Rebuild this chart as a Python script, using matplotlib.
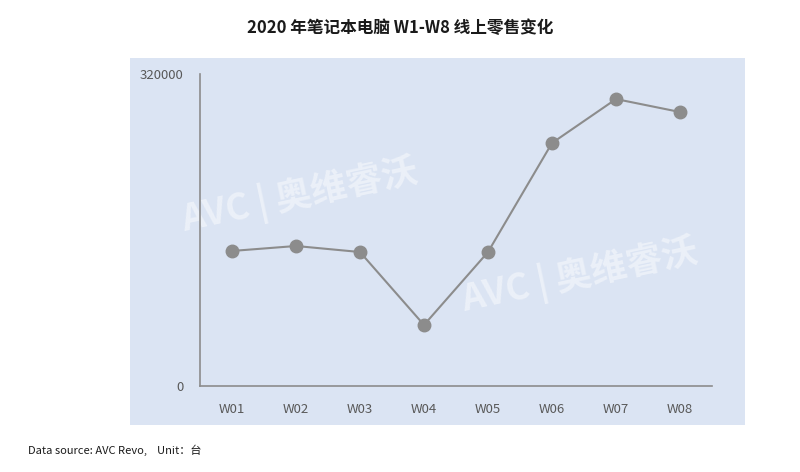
import matplotlib
matplotlib.use("Agg")
import matplotlib.pyplot as plt
from matplotlib.patches import Rectangle

plt.rcParams['font.family'] = ['Noto Sans CJK SC', 'DejaVu Sans']

weeks = ["W01", "W02", "W03", "W04", "W05", "W06", "W07", "W08"]
sales = [138500, 143600, 137400, 62600, 137400, 249200, 294300, 281000]
yticks = [0, 320000]

fig = plt.figure(figsize=(8, 4.72), dpi=100)
fig.patches.append(Rectangle((130/800, 1-425/472), 615/800, 367/472,
                             transform=fig.transFigure, facecolor="#dbe4f3",
                             edgecolor="none", zorder=-5))
fig.text(300/800, 1-195/472, "AVC | 奥维睿沃", fontsize=26, fontweight="bold",
         color="white", alpha=0.45, rotation=12, ha="center", va="center", zorder=-4)
fig.text(580/800, 1-275/472, "AVC | 奥维睿沃", fontsize=26, fontweight="bold",
         color="white", alpha=0.45, rotation=12, ha="center", va="center", zorder=-4)
ax = fig.add_axes([200/800, 1-386/472, 512/800, 312/472])
ax.set_zorder(2)
ax.set_facecolor("none")
x = range(len(weeks))
ax.plot(x, sales, color="#8c8c8c", lw=1.5, marker="o", ms=9,
        mfc="#8c8c8c", mec="#8c8c8c", zorder=3, clip_on=False)
ax.set_xlim(-0.5, len(weeks)-0.5)
ax.set_ylim(0, 320000)
ax.set_xticks(list(x))
ax.set_xticklabels(weeks, fontsize=9.5, color="#595959")
ax.set_yticks(yticks)
ax.set_yticklabels([str(v) for v in yticks], fontsize=9.5, color="#595959")
ax.tick_params(length=0, pad=12)
for s in ["top", "right"]:
    ax.spines[s].set_visible(False)
for s in ["left", "bottom"]:
    ax.spines[s].set_color("#8c8c8c")
    ax.spines[s].set_linewidth(1.2)

fig.text(0.5, 1-28/472, "2020 年笔记本电脑 W1-W8 线上零售变化", ha="center",
         va="center", fontsize=12, fontweight="bold", color="#1a1a1a")
fig.text(28/800, 1-450/472, "Data source: AVC Revo,    Unit：台", ha="left",
         va="center", fontsize=8, color="#1a1a1a")
fig.savefig("out.png", dpi=100)
